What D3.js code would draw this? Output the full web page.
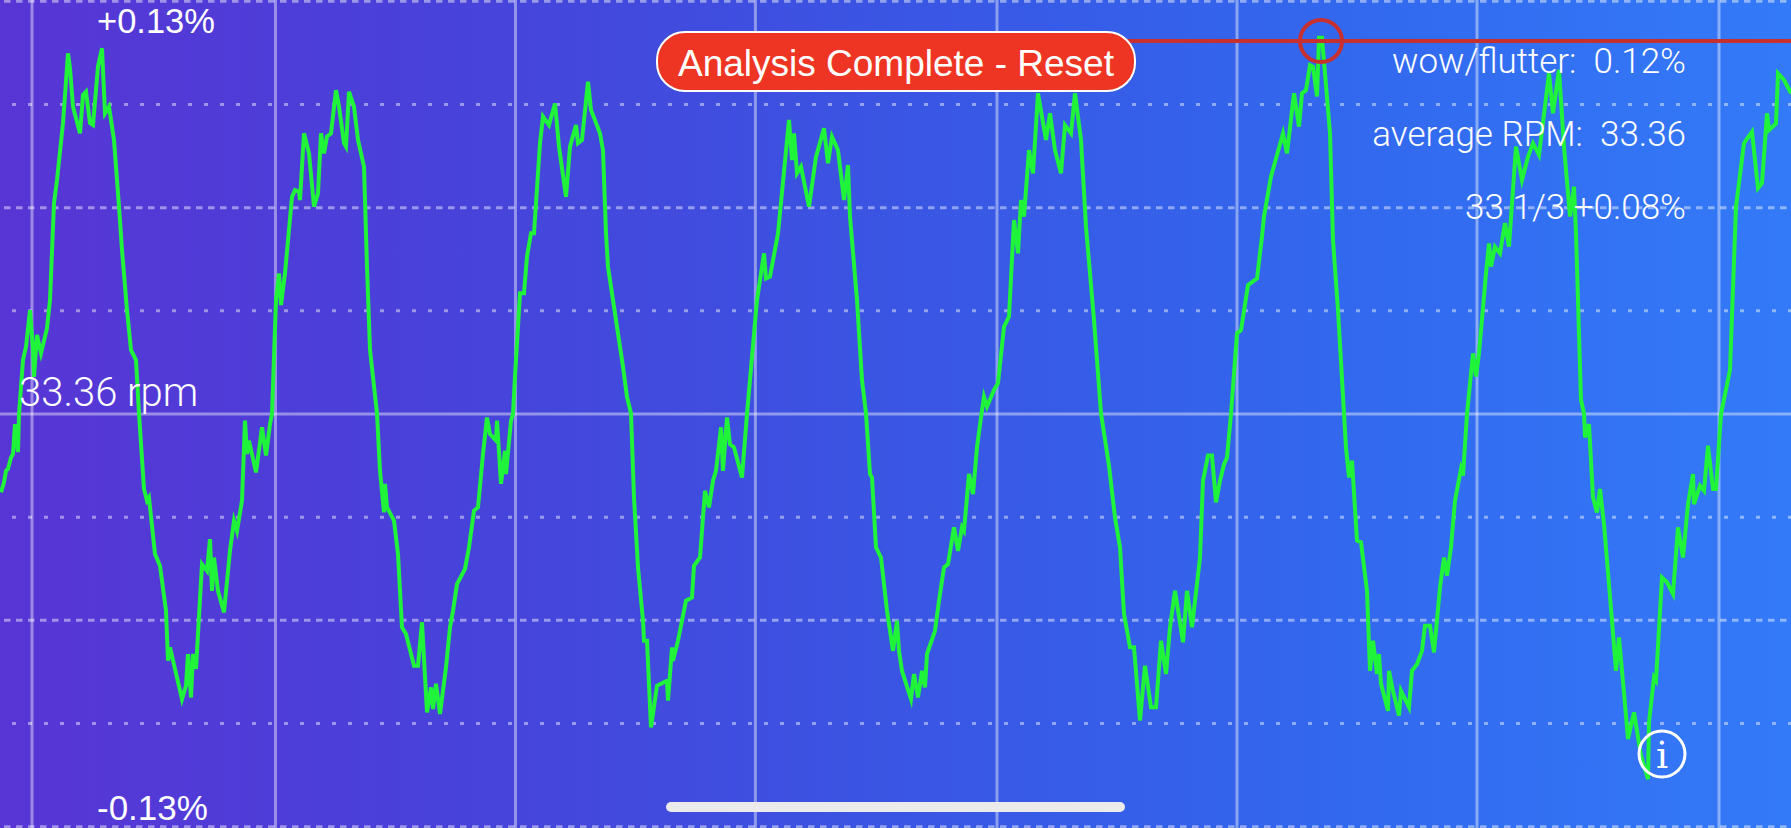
<!DOCTYPE html>
<html><head><meta charset="utf-8">
<script src="https://cdn.jsdelivr.net/npm/d3@7/dist/d3.min.js"></script>
<style>
html,body{margin:0;padding:0;background:#3a55e2;overflow:hidden}
svg{display:block}
</style></head><body>
<svg id="c" width="1791" height="828"></svg>
<script>
// [sample, speed deviation in thousandths of a percent]
const cycle1=[[1,-24.7],[4,-21.5],[6,-17.9],[8,-17.3],[11,-13.7],[13,-12.6],[15,-3.2],[16,-6.3],[18,-12],[19,0],[23,17],[26,21.2],[30,32.7],[33,20.2],[34,11.7],[37,24.9],[41,19.1],[47,27],[50,35.9],[54,66.4],[57,73.7],[63,91.6],[68,113.6],[70,108.9],[73,96.8],[80,88.4],[83,100.5],[86,101.5],[90,91.6],[93,91],[98,109.4],[102,115.2],[105,94.7],[109,96.8],[114,86.3],[119,65.3],[122,51.7],[127,32.7],[131,20.2],[136,17],[139,0.2],[144,-23.6],[147,-27.3],[149,-26.3],[155,-44.1],[160,-47.8],[166,-62],[168,-77.7],[170,-73.5],[182,-89.8],[186,-85.6],[188,-75.6],[191,-89.3],[193,-75.6],[196,-80.3],[202,-47.3],[207,-49.4],[210,-39.4],[212,-55.7],[214,-45.2],[218,-55.7],[224,-62.5],[230,-43],[234,-33.6],[237,-36.8],[242,-27.3],[245,-2.1],[247,-12.6],[249,-8.4],[256,-18.4],[262,-4.2],[266,-13.1],[270,-3.2]];
const cycle2=[[272,0],[276,35.9],[279,44.3],[281,34.3],[285,44.3],[292,68.4],[295,70.5],[299,70],[300,67.4],[304,88.4],[309,82.1],[314,65.3],[318,69.5],[321,88.4],[324,82.1],[327,87.4],[331,88.4],[336,102],[339,96.8],[344,85.3],[346,84.2],[349,101.5],[354,96.8],[358,86.3],[364,77.9],[367,46.4],[370,20.2],[377,0.2],[380,-17.9],[384,-31],[385,-22],[387,-29.4],[394,-33.6],[398,-44.1],[402,-67.2],[406,-69.3],[414,-79.3],[418,-79.3],[422,-65.6],[427,-94],[431,-86.1],[433,-92.9],[436,-85],[440,-94.5],[446,-79.8],[450,-67.2],[453,-62],[457,-53.6],[465,-48.8],[469,-42],[474,-30.5],[478,-29.4],[483,-12.6],[487,-1.1],[490,-6.3],[496,-8.4],[497,-2.1],[501,-22],[505,-11.6],[506,-18.9],[511,-2.1]];
const cycle3=[[513,0],[515,11.8],[520,38],[524,38],[527,49.6],[531,56.9],[534,56.9],[540,85.3],[543,93.7],[549,91],[555,97.8],[559,84.2],[566,68.4],[570,84.2],[576,91],[578,85.3],[582,86.3],[588,104.7],[591,95.8],[600,88.4],[603,83.1],[606,56.9],[608,46.4],[615,31.7],[623,14.9],[627,5.4],[631,0.2],[634,-26.3],[638,-48.3],[643,-65.1],[644,-71.4],[647,-71.4],[651,-98.7],[657,-85.6],[667,-84],[668,-90.3],[672,-73.5],[673,-77.7],[678,-71.4],[686,-58.8],[692,-57.8],[694,-47.8],[700,-45.2],[705,-24.2],[709,-29.4],[713,-21],[716,-17.9],[721,-4.2],[723,-17.9],[727,-1.1],[730,-9.5],[734,-10.5],[742,-20]];
const cycle4=[[747,0],[757,35.9],[764,50.6],[766,42.7],[770,43.3],[778,56.9],[789,92.6],[792,80],[794,88.4],[797,75.8],[801,77.9],[809,65.3],[816,81],[824,90],[828,79],[832,87.4],[838,83.1],[844,67.4],[848,78.4],[850,62.2],[857,35.9],[862,10.7],[866,0.2],[870,-18.9],[872,-20],[876,-42],[881,-45.2],[887,-62],[893,-74.6],[897,-65.1],[899,-74.6],[902,-80.9],[911,-89.8],[914,-81.9],[918,-89.3],[922,-80.9],[925,-86.1],[927,-75.6],[935,-68.3],[939,-58.8],[944,-48.3],[948,-47.3],[954,-35.7],[958,-43.1],[962,-35.7],[964,-36.8],[969,-18.9],[973,-25.2],[977,-10.5],[981,-1.1]];
const cycle5=[[984,5.4],[987,2.3],[994,7.6],[998,9.7],[1004,27.5],[1009,30.7],[1014,61.1],[1018,50.6],[1021,67.4],[1024,62.2],[1029,83.1],[1033,75.8],[1038,101],[1046,86.3],[1050,94.7],[1055,83.1],[1061,75.8],[1065,91],[1071,88.4],[1075,101],[1081,86.3],[1086,59],[1094,29.6],[1098,12.8],[1101,0.2],[1109,-16.3],[1115,-32.6],[1120,-42],[1124,-63],[1130,-73.5],[1134,-73.5],[1140,-96.6],[1145,-79.3],[1151,-92.4],[1156,-92.4],[1161,-71.4],[1166,-81.9],[1170,-67.2],[1175,-55.7],[1183,-71.9],[1187,-55.7],[1192,-67.2],[1200,-45.2],[1203,-21],[1208,-13.1],[1212,-13.1],[1216,-27.8],[1220,-21],[1224,-15.8],[1227,-13.7]];
const cycle6=[[1231,0],[1237,25.4],[1241,26.4],[1248,40.6],[1257,42.7],[1262,55.9],[1264,62.2],[1271,74.8],[1283,88.4],[1287,82.1],[1294,101],[1299,90.5],[1302,101],[1306,102],[1310,109.9],[1313,109.4],[1317,100],[1319,118.5],[1322,118.5],[1325,107.3],[1330,88.4],[1333,54.8],[1338,32.7],[1344,0.2],[1346,-10.5],[1349,-20],[1352,-14.7],[1357,-39.9],[1361,-40.4],[1367,-55.7],[1370,-80.9],[1373,-71.4],[1377,-81.9],[1379,-75.6],[1381,-85],[1388,-93.5],[1389,-80.9],[1393,-87.2],[1399,-95],[1401,-87.2],[1409,-92.4],[1412,-80.9],[1417,-78.8],[1422,-74.6],[1425,-66.7],[1430,-66.7],[1434,-75.1],[1440,-54.6],[1444,-45.2],[1447,-50.9],[1451,-42],[1455,-27.3],[1461,-17.3],[1463,-19.4]];
const cycle7=[[1467,0],[1473,19.1],[1476,11.8],[1479,19.1],[1486,44.3],[1489,53.7],[1491,46.4],[1495,52.7],[1500,50.6],[1505,60.1],[1509,52.7],[1516,84.2],[1522,73.7],[1528,81],[1533,85.3],[1539,81.6],[1549,107.3],[1553,94.7],[1559,108.4],[1564,84.2],[1570,62.2],[1574,71.6],[1576,56.9],[1581,4.4],[1584,0.2],[1585,-7.4],[1589,-3.2],[1593,-26.3],[1597,-31],[1600,-23.6],[1604,-34.7],[1612,-65.1],[1616,-80.9],[1619,-70.4],[1625,-91.4],[1628,-102.4],[1634,-94],[1641,-107.6],[1648,-115],[1649,-97.1],[1654,-83],[1656,-84],[1662,-51.5],[1667,-53],[1673,-56.7],[1678,-35.7],[1683,-45.2],[1688,-28.4],[1693,-18.9],[1694,-28.4],[1700,-22.6],[1704,-24.2],[1708,-10],[1713,-23.6],[1716,-23.6]];
const cycle8=[[1721,0],[1730,13.9],[1736,65.3],[1744,85.3],[1752,88.9],[1758,71.1],[1762,72.7],[1767,94.7],[1769,89.4],[1776,91.5],[1778,107.3],[1784,105.2],[1791,101]];
const trace=[...cycle1,...cycle2,...cycle3,...cycle4,...cycle5,...cycle6,...cycle7,...cycle8];

const sampleTicks=[32,275.5,515.5,755.4,997,1237,1477,1719];
const dashedTicks=[130,65,-65,-130];
const dottedTicks=[97.5,32.5,-32.5,-97.5];
const solidTicks=[0];
const peakSample=1321, peakValue=117.5;
const titleTop="+0.13%", titleBottom="-0.13%", centerLabel="33.36 rpm";
const statLines=["wow/flutter:\u00a0\u00a00.12%","average RPM:\u00a0\u00a033.36","33 1/3 +0.08%"];
const buttonLabel="Analysis Complete - Reset";

const W=1791,H=828;
const svg=d3.select("#c");
const x=d3.scaleLinear().domain([0,1791]).range([0,W]);
const y=d3.scaleLinear().domain([130.4,-130.4]).range([0,H]);

const defs=svg.append("defs");
const g=defs.append("linearGradient").attr("id","bg").attr("x1",0).attr("x2",1).attr("y1",0).attr("y2",0);
[[0,"#5835d5"],[0.25,"#4842da"],[0.5,"#3a55e3"],[0.75,"#3268ee"],[1,"#337af8"]].forEach(d=>g.append("stop").attr("offset",d[0]).attr("stop-color",d[1]));
svg.append("rect").attr("width",W).attr("height",H).attr("fill","url(#bg)");

const gridColor="rgba(255,255,255,0.42)";
const grid=svg.append("g");
grid.selectAll(".v").data(sampleTicks).join("line").attr("x1",d=>x(d)).attr("x2",d=>x(d)).attr("y1",0).attr("y2",H).attr("stroke",gridColor).attr("stroke-width",3);
grid.selectAll(".s").data(solidTicks).join("line").attr("x1",0).attr("x2",W).attr("y1",d=>y(d)).attr("y2",d=>y(d)).attr("stroke",gridColor).attr("stroke-width",3);
const softWhite="rgba(255,255,255,0.45)";
grid.selectAll(".da").data(dashedTicks).join("line").attr("x1",4).attr("x2",W).attr("y1",d=>y(d)).attr("y2",d=>y(d)).attr("stroke",softWhite).attr("stroke-width",3).attr("stroke-dasharray","6.5 5.5");
grid.selectAll(".do").data(dottedTicks).join("line").attr("x1",12).attr("x2",W).attr("y1",d=>y(d)).attr("y2",d=>y(d)).attr("stroke",softWhite).attr("stroke-width",3).attr("stroke-dasharray","4 12");

const line=d3.line().x(d=>x(d[0])).y(d=>y(d[1]));
svg.append("path").datum(trace).attr("d",line).attr("fill","none").attr("stroke","#1ff33a").attr("stroke-width",4).attr("stroke-linejoin","miter").attr("stroke-miterlimit",5);

// peak marker
svg.append("line").attr("x1",x(1100)).attr("x2",W).attr("y1",y(peakValue)).attr("y2",y(peakValue)).attr("stroke","#c8302f").attr("stroke-width",4);
svg.append("ellipse").attr("cx",x(peakSample)).attr("cy",y(peakValue)).attr("rx",21).attr("ry",21).attr("fill","none").attr("stroke","#c8302f").attr("stroke-width",4);

const txt=(s,px,py,size,anchor,font,weight)=>svg.append("text").text(s).attr("x",px).attr("y",py).attr("fill","#fff").attr("font-size",size).attr("text-anchor",anchor).attr("font-family",font).attr("font-weight",weight);
txt(titleTop,97,33,34.5,"start","Liberation Sans",400);
txt(titleBottom,97,820,35,"start","Liberation Sans",400);
txt(centerLabel,19,406,40,"start","Roboto",300);
statLines.forEach((s,i)=>txt(s,1686,73+73*i,35,"end","Roboto",300));

// button
svg.append("rect").attr("x",657).attr("y",32).attr("width",478).attr("height",59).attr("rx",28).attr("fill","#ee3524").attr("stroke","#fff").attr("stroke-width",2);
txt(buttonLabel,896,76,37,"middle","Liberation Sans",400);

// info icon
svg.append("ellipse").attr("cx",1662).attr("cy",754).attr("rx",23).attr("ry",23).attr("fill","none").attr("stroke","#fff").attr("stroke-width",3);
txt("i",1662,768,38,"middle","DejaVu Serif",400);

// home bar
svg.append("rect").attr("x",666).attr("y",802).attr("width",459).attr("height",10).attr("rx",5).attr("fill","#ebebeb");
</script>
</body></html>
